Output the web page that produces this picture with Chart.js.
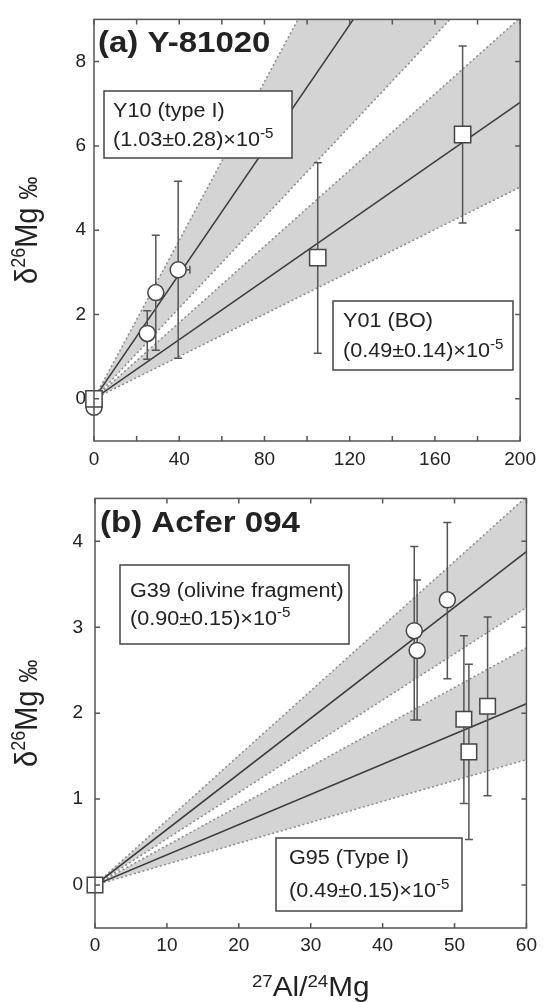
<!DOCTYPE html>
<html lang="en">
<head>
<meta charset="UTF-8" />
<title>Al-Mg isochrons</title>
<script src="https://cdn.jsdelivr.net/npm/chart.js@4.4.0/dist/chart.umd.min.js"></script>
<style>
  body { margin: 0; background: #fff; }
  .wrap { position: relative; width: 543px; height: 1002px; }
  canvas { position: absolute; left: 0; }
  #chartA { top: 0; }
  #chartB { top: 475px; }
</style>
</head>
<body>
<div class="wrap">
  <canvas id="chartA" width="543" height="475"></canvas>
  <canvas id="chartB" width="543" height="527"></canvas>
</div>
<script>
// ---- panel (a) Y-81020 ----
const aXTicks = [0, 40, 80, 120, 160, 200];
const aXMinor = [20, 60, 100, 140, 180];
const aYTicks = [0, 2, 4, 6, 8];

// Y10 (type I), circles
const y10X = [0, 25, 29, 39.5];
const y10Y = [-0.2, 1.55, 2.52, 3.06];
const y10Lo = [null, 0.94, 1.15, 0.96];
const y10Hi = [null, 2.09, 3.88, 5.16];
const y10XLo = [null, null, null, 36.5];
const y10XHi = [null, null, null, 45];

// Y01 (BO), squares
const y01X = [0, 105, 173];
const y01Y = [0, 3.35, 6.27];
const y01Lo = [null, 1.08, 4.17];
const y01Hi = [null, 5.6, 8.37];

// isochrons (fit, -1 sigma, +1 sigma), from origin to x = 200
const aLineX = [0, 200];
const y10Fit = [0, 14.79];
const y10Low = [0, 10.77];
const y10High = [0, 18.8];
const y01Fit = [0, 7.03];
const y01Low = [0, 5.02];
const y01High = [0, 9.04];

// ---- panel (b) Acfer 094 ----
const bXTicks = [0, 10, 20, 30, 40, 50, 60];
const bYTicks = [0, 1, 2, 3, 4];

// G39 (olivine fragment), circles
const g39X = [44.4, 44.8, 49];
const g39Y = [2.96, 2.73, 3.32];
const g39Lo = [1.92, 1.92, 2.4];
const g39Hi = [3.94, 3.55, 4.22];

// G95 (Type I), squares
const g95X = [0, 51.3, 52, 54.6];
const g95Y = [0, 1.93, 1.55, 2.08];
const g95Lo = [null, 0.95, 0.53, 1.04];
const g95Hi = [null, 2.9, 2.57, 3.12];

const bLineX = [0, 60];
const g39Fit = [0, 3.88];
const g39Low = [0, 3.23];
const g39High = [0, 4.52];
const g95Fit = [0, 2.11];
const g95Low = [0, 1.46];
const g95High = [0, 2.76];

const FONT = "'Liberation Sans', Arial, Helvetica, sans-serif";
const INK = '#222';

function pts(xs, ys) {
  return xs.map((x, i) => ({ x: x, y: ys[i] }));
}

function markers(xs, ys, style, r, lo, hi, xlo, xhi) {
  return {
    data: pts(xs, ys),
    showLine: false,
    pointStyle: style,
    pointRadius: r,
    pointBackgroundColor: '#fff',
    pointBorderColor: '#444',
    pointBorderWidth: 1.5,
    clip: false,
    errLo: lo, errHi: hi, errXLo: xlo, errXHi: xhi
  };
}

function fitLine(xs, ys) {
  return { data: pts(xs, ys), borderColor: '#3a3a3a', borderWidth: 1.5, pointRadius: 0, fill: false };
}

function edge(xs, ys, fillPrev) {
  return {
    data: pts(xs, ys), borderColor: '#8a8a8a', borderWidth: 1.5, borderDash: [2, 2.5],
    pointRadius: 0, fill: fillPrev ? '-1' : false, backgroundColor: '#d4d4d4'
  };
}

// text runs with a slight horizontal stretch, like the scanned figure
function runs(ctx, items, x, y, sx, center) {
  ctx.save();
  let total = 0;
  items.forEach(it => {
    ctx.font = (it.bold ? 'bold ' : '') + it.size + 'px ' + FONT;
    total += ctx.measureText(it.t).width;
  });
  ctx.translate(x, y);
  ctx.scale(sx, 1);
  let cx = center ? -total / 2 : 0;
  ctx.fillStyle = INK;
  ctx.textBaseline = 'alphabetic';
  items.forEach(it => {
    ctx.font = (it.bold ? 'bold ' : '') + it.size + 'px ' + FONT;
    ctx.fillText(it.t, cx, -(it.rise || 0));
    cx += ctx.measureText(it.t).width;
  });
  ctx.restore();
}

const errorBars = {
  id: 'errorBars',
  beforeDatasetDraw(chart, args) {
    const ds = chart.data.datasets[args.index];
    if (!ds.errLo) return;
    const xs = chart.scales.x, ys = chart.scales.y, ctx = chart.ctx;
    ctx.save();
    ctx.strokeStyle = '#555';
    ctx.lineWidth = 1.5;
    ctx.beginPath();
    ds.data.forEach((p, i) => {
      const px = xs.getPixelForValue(p.x), py = ys.getPixelForValue(p.y);
      if (ds.errLo[i] != null) {
        const y1 = ys.getPixelForValue(ds.errLo[i]), y2 = ys.getPixelForValue(ds.errHi[i]);
        ctx.moveTo(px, y1); ctx.lineTo(px, y2);
        ctx.moveTo(px - 4, y1); ctx.lineTo(px + 4, y1);
        ctx.moveTo(px - 4, y2); ctx.lineTo(px + 4, y2);
      }
      if (ds.errXLo && ds.errXLo[i] != null) {
        const x1 = xs.getPixelForValue(ds.errXLo[i]), x2 = xs.getPixelForValue(ds.errXHi[i]);
        ctx.moveTo(x1, py); ctx.lineTo(x2, py);
        ctx.moveTo(x1, py - 4); ctx.lineTo(x1, py + 4);
        ctx.moveTo(x2, py - 4); ctx.lineTo(x2, py + 4);
      }
    });
    ctx.stroke();
    ctx.restore();
  }
};

function decor(cfg) {
  return {
    id: 'decor',
    afterDatasetsDraw(chart) {
      const ctx = chart.ctx, a = chart.chartArea, x = chart.scales.x, y = chart.scales.y;
      // annotation boxes
      cfg.boxes.forEach(b => {
        ctx.save();
        ctx.fillStyle = '#fff';
        ctx.strokeStyle = '#444';
        ctx.lineWidth = 1.5;
        ctx.fillRect(b.x, b.y, b.w, b.h);
        ctx.strokeRect(b.x, b.y, b.w, b.h);
        ctx.restore();
        runs(ctx, [{ t: b.l1, size: 20 }], b.tx, b.y + b.b1, 1.08);
        runs(ctx, [{ t: b.l2, size: 20 }, { t: '-5', size: 14, rise: 8 }], b.tx, b.y + b.b2, 1.08);
      });
      runs(ctx, [{ t: cfg.title, size: 30, bold: true }], cfg.titleX, cfg.titleY, 1.1);

      // frame with inward ticks
      ctx.save();
      ctx.strokeStyle = '#555';
      ctx.lineWidth = 1.5;
      ctx.strokeRect(a.left, a.top, a.right - a.left, a.bottom - a.top);
      ctx.beginPath();
      cfg.xTicks.concat(cfg.xMinor).forEach(v => {
        const px = x.getPixelForValue(v);
        ctx.moveTo(px, a.bottom); ctx.lineTo(px, a.bottom - 5);
        ctx.moveTo(px, a.top); ctx.lineTo(px, a.top + 5);
      });
      cfg.yTicks.forEach(v => {
        const py = y.getPixelForValue(v);
        ctx.moveTo(a.left, py); ctx.lineTo(a.left + 5, py);
        ctx.moveTo(a.right, py); ctx.lineTo(a.right - 5, py);
      });
      ctx.stroke();
      ctx.restore();

      // y axis title, rotated
      ctx.save();
      ctx.translate(37, (a.top + a.bottom) / 2);
      ctx.rotate(-Math.PI / 2);
      ctx.scale(1, 1.1);
      runs(ctx, [{ t: 'δ', size: 29 }, { t: '26', size: 18, rise: 11 }, { t: 'Mg ', size: 29 }, { t: '‰', size: 23 }], 0, 0, 1, true);
      ctx.restore();

      if (cfg.xTitle) {
        runs(ctx, [{ t: '27', size: 17, rise: 9 }, { t: 'Al/', size: 27 }, { t: '24', size: 17, rise: 9 }, { t: 'Mg', size: 27 }],
          (a.left + a.right) / 2, 521, 1.1, true);
      }
    }
  };
}

function baseOptions(xr, yr, xT, yT, pad, yWidth, xHeight, xPad, yPad) {
  return {
    responsive: false,
    animation: false,
    layout: { padding: pad },
    plugins: { legend: { display: false }, tooltip: { enabled: false } },
    scales: {
      x: {
        type: 'linear', min: xr[0], max: xr[1],
        grid: { display: false, drawTicks: false }, border: { display: false },
        afterBuildTicks: s => { s.ticks = xT.map(v => ({ value: v })); },
        afterFit: s => { s.height = xHeight; },
        ticks: { color: INK, padding: xPad, font: { family: FONT, size: 19 }, maxRotation: 0 }
      },
      y: {
        type: 'linear', min: yr[0], max: yr[1],
        grid: { display: false, drawTicks: false }, border: { display: false },
        afterBuildTicks: s => { s.ticks = yT.map(v => ({ value: v })); },
        afterFit: s => { s.width = yWidth; },
        ticks: { color: INK, padding: yPad, font: { family: FONT, size: 19 } }
      }
    }
  };
}

new Chart(document.getElementById('chartA'), {
  type: 'line',
  data: {
    datasets: [
      markers(y01X, y01Y, 'rect', 11.5, y01Lo, y01Hi),
      markers(y10X, y10Y, 'circle', 8, y10Lo, y10Hi, y10XLo, y10XHi),
      fitLine(aLineX, y01Fit),
      fitLine(aLineX, y10Fit),
      edge(aLineX, y01Low, false),
      edge(aLineX, y01High, true),
      edge(aLineX, y10Low, false),
      edge(aLineX, y10High, true)
    ]
  },
  options: baseOptions([0, 200], [-1, 9], aXTicks, aYTicks, { left: 0, top: 14, right: 18, bottom: 0 }, 94, 34, 7, 8),
  plugins: [errorBars, decor({
    title: '(a) Y-81020', titleX: 98, titleY: 52,
    xTicks: aXTicks, xMinor: aXMinor, yTicks: aYTicks, xTitle: false,
    boxes: [
      { x: 104, y: 91, w: 188, h: 67, tx: 113, b1: 26, b2: 55, l1: 'Y10 (type I)', l2: '(1.03±0.28)×10' },
      { x: 333, y: 301, w: 180, h: 69, tx: 343, b1: 26, b2: 56, l1: 'Y01 (BO)', l2: '(0.49±0.14)×10' }
    ]
  })]
});

new Chart(document.getElementById('chartB'), {
  type: 'line',
  data: {
    datasets: [
      markers(g95X, g95Y, 'rect', 11, g95Lo, g95Hi),
      markers(g39X, g39Y, 'circle', 8, g39Lo, g39Hi),
      fitLine(bLineX, g95Fit),
      fitLine(bLineX, g39Fit),
      edge(bLineX, g95Low, false),
      edge(bLineX, g95High, true),
      edge(bLineX, g39Low, false),
      edge(bLineX, g39High, true)
    ]
  },
  options: baseOptions([0, 60], [-0.5, 4.5], bXTicks, bYTicks, { left: 0, top: 21, right: 13, bottom: 0 }, 95, 74, 6, 12),
  plugins: [errorBars, decor({
    title: '(b) Acfer 094', titleX: 100, titleY: 57,
    xTicks: bXTicks, xMinor: [], yTicks: bYTicks, xTitle: true,
    boxes: [
      { x: 120, y: 90, w: 229, h: 79, tx: 130, b1: 32, b2: 60, l1: 'G39 (olivine fragment)', l2: '(0.90±0.15)×10' },
      { x: 276, y: 363, w: 186, h: 73, tx: 289, b1: 26, b2: 59, l1: 'G95 (Type I)', l2: '(0.49±0.15)×10' }
    ]
  })]
});
</script>
</body>
</html>
